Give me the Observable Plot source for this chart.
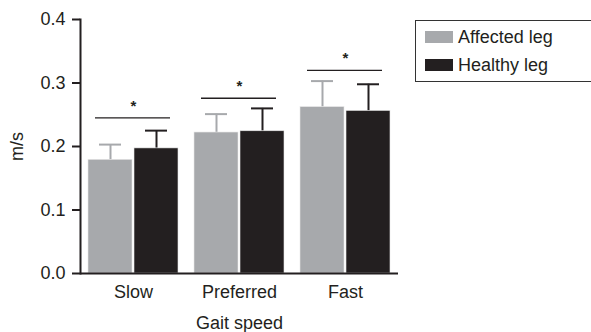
<!DOCTYPE html>
<html>
<head>
<meta charset="utf-8">
<script src="https://cdn.jsdelivr.net/npm/d3@7"></script>
<script src="https://cdn.jsdelivr.net/npm/@observablehq/plot@0.6"></script>
<style>
  html, body { margin: 0; padding: 0; background: #fff; }
  #wrap { position: relative; width: 591px; height: 332px; overflow: hidden; font-family: "Liberation Sans", Arial, sans-serif; color: #231f20; }
  #legend { position: absolute; left: 415px; top: 20px; width: 190px; height: 62px; border: 1px solid #333; box-sizing: border-box; background: #fff; }
  .item { position: absolute; left: 9px; display: flex; align-items: center; font-size: 18px; line-height: 1; }
  .sw { width: 28px; height: 12px; margin-right: 5px; }
</style>
</head>
<body>
<div id="wrap"></div>
<script>
const groups = ["Slow", "Preferred", "Fast"];
const legs = ["Affected leg", "Healthy leg"];
const legColors = ["#a7a9ac", "#231f20"];
const affectedMean = [0.179, 0.222, 0.262];
const affectedSD = [0.024, 0.029, 0.041];
const healthyMean = [0.197, 0.224, 0.256];
const healthySD = [0.028, 0.036, 0.042];
const sigLevel = [0.245, 0.276, 0.320];
const yTicks = [0, 0.1, 0.2, 0.3, 0.4];

const rows = groups.flatMap((g, i) => [
  {group: g, leg: legs[0], mean: affectedMean[i], sd: affectedSD[i]},
  {group: g, leg: legs[1], mean: healthyMean[i], sd: healthySD[i]}
]);
const sig = groups.map((g, i) => ({group: g, y: sigLevel[i]}));

const chart = Plot.plot({
  width: 591,
  height: 332,
  marginTop: 19,
  marginBottom: 59,
  marginLeft: 80,
  marginRight: 193,
  style: {fontFamily: "'Liberation Sans', Arial, sans-serif", fontSize: "18px", color: "#231f20", background: "white"},
  fx: {domain: groups, padding: 0, label: null, axis: null},
  x: {domain: legs, paddingInner: 0.054, paddingOuter: 0.167, axis: null},
  y: {domain: [0, 0.4], axis: null},
  color: {domain: legs, range: legColors},
  marks: [
    Plot.ruleX(rows, {fx: "group", x: "leg", y1: "mean", y2: d => d.mean + d.sd, stroke: "leg", strokeWidth: 2}),
    Plot.tickY(rows, {fx: "group", x: "leg", y: d => d.mean + d.sd, stroke: "leg", strokeWidth: 2, inset: 11}),
    Plot.barY(rows, {fx: "group", x: "leg", y: "mean", fill: "leg", stroke: "#e6e6e6", strokeWidth: 0.6}),
    Plot.ruleY([0], {stroke: "#231f20", strokeWidth: 2}),
    Plot.frame({anchor: "left", facetAnchor: "left", stroke: "#231f20", strokeWidth: 2}),
    Plot.tickY(sig, {fx: "group", y: "y", insetLeft: 15, insetRight: 16, stroke: "#231f20", strokeWidth: 1.3}),
    Plot.text(sig, {fx: "group", y: "y", text: () => "*", dy: -12, fontSize: 15, fontWeight: "bold", fill: "#231f20"}),
    Plot.axisY({ticks: yTicks, tickFormat: ".1f", tickSize: 8, tickPadding: 7, strokeWidth: 2, stroke: "#231f20", fill: "#231f20", fontSize: 18, label: "m/s", labelAnchor: "center", labelArrow: "none", labelOffset: 70}),
    Plot.axisFx({anchor: "bottom", tickSize: 0, tickPadding: 12, fontSize: 18, fill: "#231f20", label: "Gait speed", labelAnchor: "center", labelArrow: "none", labelOffset: 55})
  ]
});

const wrap = document.getElementById("wrap");
wrap.appendChild(chart);

const legend = document.createElement("div");
legend.id = "legend";
legs.forEach((name, i) => {
  const item = document.createElement("div");
  item.className = "item";
  item.style.top = (i === 0 ? 7 : 35) + "px";
  const sw = document.createElement("span");
  sw.className = "sw";
  sw.style.background = legColors[i];
  const t = document.createElement("span");
  t.textContent = name;
  item.appendChild(sw);
  item.appendChild(t);
  legend.appendChild(item);
});
wrap.appendChild(legend);
</script>
</body>
</html>
